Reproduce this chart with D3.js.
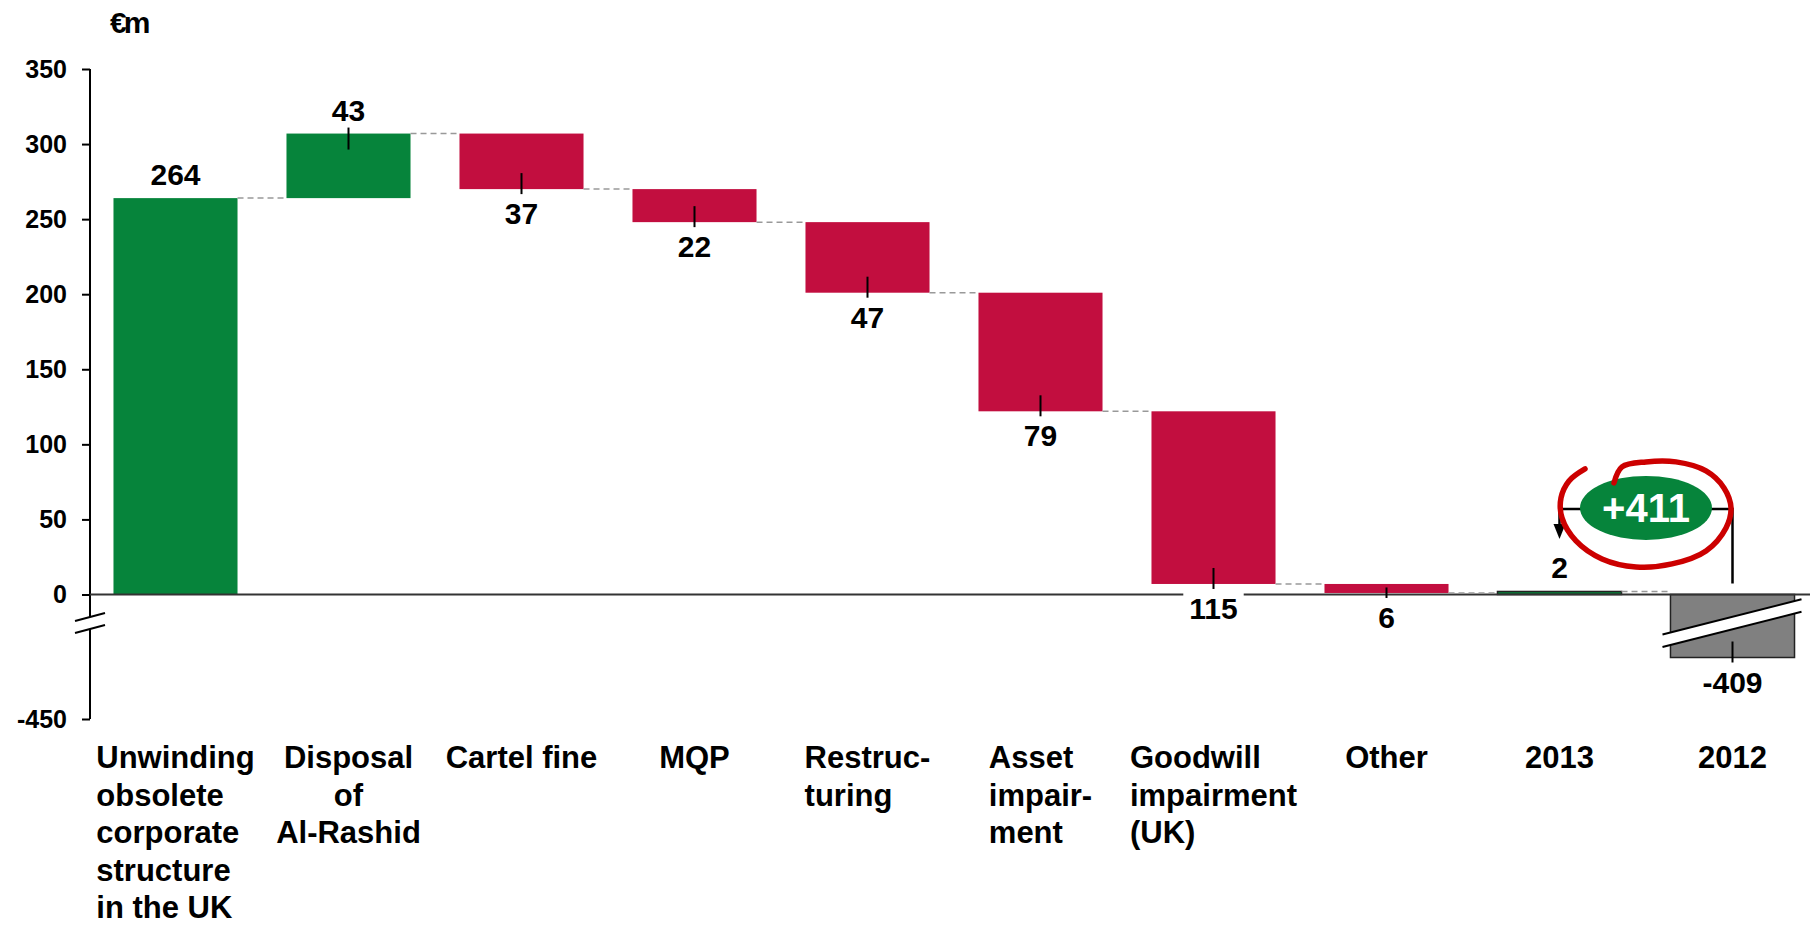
<!DOCTYPE html>
<html>
<head>
    <title>Waterfall</title>
    <script src="https://d3js.org/d3.v7.min.js"></script>
    <style>
        body { margin: 0; background: #fff; }
        text { font-family: "Liberation Sans", Arial, sans-serif; font-weight: bold; fill: #000; }
        .tick text { font-size: 25px; }
        .tick line { stroke: #000; stroke-width: 2; }
        .cat { font-size: 31px; }
        .val { font-size: 30px; }
    </style>
</head>
<body>
<svg width="1810" height="928"></svg>
<script>
    // data
    var labelLines = [
        ["Unwinding", "obsolete", "corporate", "structure", "in the UK"],
        ["Disposal", "of", "Al-Rashid"],
        ["Cartel fine"],
        ["MQP"],
        ["Restruc-", "turing"],
        ["Asset", "impair-", "ment"],
        ["Goodwill", "impairment", "(UK)"],
        ["Other"],
        ["2013"],
        ["2012"]
    ];
    var categories = labelLines.map(d => d.join(" "));
    var values = [264, 43, -37, -22, -47, -79, -115, -6, 2, -409];
    var kinds = ["start", "up", "down", "down", "down", "down", "down", "down", "end", "prior"];
    var yTicks = [-450, 0, 50, 100, 150, 200, 250, 300, 350];
    var hiddenRange = [-386, -19];   // part of the axis cut out by the break
    var annotLevel = 57;             // height of the +411 bracket, in €m

    var colors = { start: "#06843b", up: "#06843b", end: "#06843b", down: "#c20e3f", prior: "#808080" };

    var svg = d3.select("svg"),
        width = +svg.attr("width");

    var x = d3.scaleBand()
        .domain(categories)
        .range([89, 1819])
        .paddingInner(0.283)
        .paddingOuter(0.1415);

    var y = d3.scaleLinear()
        .domain([-450, hiddenRange[0], hiddenRange[1], 350])
        .range([719, 623, 623, 69]);

    var bw = x.bandwidth();
    var yBreak = y(hiddenRange[1]);

    // build the steps
    var run = 0;
    var bars = values.map(function (v, i) {
        var k = kinds[i], y0, y1;
        if (k === "up" || k === "down") { y0 = run; y1 = run + v; }
        else { y0 = 0; y1 = v; }
        run = y1;
        return { cat: categories[i], v: v, kind: k, y0: y0, y1: y1, i: i };
    });

    // axis
    var axis = svg.append("g")
        .attr("transform", "translate(90,0)")
        .call(d3.axisLeft(y).tickValues(yTicks).tickSize(8).tickPadding(15).tickFormat(d => String(d)));
    axis.select(".domain").remove();

    axis.append("line").attr("x1", 0).attr("x2", 0)
        .attr("y1", y(350)).attr("y2", yBreak - 6)
        .attr("stroke", "#000").attr("stroke-width", 2);
    axis.append("line").attr("x1", 0).attr("x2", 0)
        .attr("y1", yBreak + 6).attr("y2", y(-450))
        .attr("stroke", "#000").attr("stroke-width", 2);
    [-6, 6].forEach(function (o) {
        axis.append("line")
            .attr("x1", -15).attr("y1", yBreak + o + 4)
            .attr("x2", 15).attr("y2", yBreak + o - 4)
            .attr("stroke", "#000").attr("stroke-width", 2);
    });

    svg.append("text")
        .attr("x", 110).attr("y", 33)
        .style("font-size", "30px")
        .style("letter-spacing", "-3px")
        .text("€m");

    // bars
    svg.append("g").selectAll("rect")
        .data(bars)
        .join("rect")
        .attr("x", d => x(d.cat))
        .attr("width", bw)
        .attr("y", d => y(Math.max(d.y0, d.y1)))
        .attr("height", d => Math.abs(y(d.y0) - y(d.y1)))
        .attr("fill", d => colors[d.kind])
        .attr("stroke", d => (d.kind === "end" || d.kind === "prior") ? "#222" : "none")
        .attr("stroke-width", 1.5);

    // break across the 2012 bar
    var last = bars[bars.length - 1];
    var bx0 = x(last.cat) - 8, bx1 = x(last.cat) + bw + 7, bcx = x(last.cat) + bw / 2;
    var slope = -0.254;
    var yAt = (xx, off) => yBreak + off + slope * (xx - bcx);
    svg.append("path")
        .attr("d", "M" + bx0 + "," + yAt(bx0, -6.25) + "L" + bx1 + "," + yAt(bx1, -6.25) +
            "L" + bx1 + "," + yAt(bx1, 6.25) + "L" + bx0 + "," + yAt(bx0, 6.25) + "Z")
        .attr("fill", "#fff");
    [-6.25, 6.25].forEach(function (o) {
        svg.append("line")
            .attr("x1", bx0).attr("y1", yAt(bx0, o))
            .attr("x2", bx1).attr("y2", yAt(bx1, o))
            .attr("stroke", "#000").attr("stroke-width", 2);
    });

    // zero line
    svg.append("line")
        .attr("x1", 90).attr("x2", width)
        .attr("y1", y(0)).attr("y2", y(0))
        .attr("stroke", "#333").attr("stroke-width", 2);

    // connectors
    svg.append("g").selectAll("line")
        .data(bars.slice(0, -1))
        .join("line")
        .attr("x1", d => x(d.cat) + bw)
        .attr("x2", d => x(categories[d.i + 1]))
        .attr("y1", d => y(d.y1))
        .attr("y2", d => y(d.y1))
        .attr("stroke", "#999")
        .attr("stroke-width", 1.5)
        .attr("stroke-dasharray", "6,4");

    // value labels and ticks
    var lab = svg.append("g");
    bars.forEach(function (d) {
        var above = d.kind === "up" || ((d.kind === "start" || d.kind === "end") && d.v > 0);
        var edge = y(above ? Math.max(d.y0, d.y1) : Math.min(d.y0, d.y1));
        var other = y(above ? Math.min(d.y0, d.y1) : Math.max(d.y0, d.y1));
        var cx = x(d.cat) + bw / 2;
        var ty = above ? edge - 13 : edge + 35;

        var t = lab.append("text")
            .attr("class", "val")
            .attr("x", cx).attr("y", ty)
            .attr("text-anchor", "middle")
            .text(d.kind === "prior" ? d.v : Math.abs(d.v));

        if (d.kind === "down") {
            var w = t.node().getComputedTextLength();
            lab.insert("rect", "text")
                .attr("x", cx - w / 2 - 6).attr("y", ty - 30)
                .attr("width", w + 12).attr("height", 34)
                .attr("fill", "#fff");
        }
        if (d.kind === "up" || d.kind === "down" || d.kind === "prior") {
            var t1, t2;
            if (above) { t1 = edge - 6; t2 = Math.min(edge + 16, other - 3.5); }
            else { t1 = Math.max(edge - 16, other + 3.5); t2 = edge + 5; }
            lab.append("line")
                .attr("x1", cx).attr("x2", cx)
                .attr("y1", t1).attr("y2", t2)
                .attr("stroke", "#000").attr("stroke-width", 2);
        }
    });

    // category labels
    labelLines.forEach(function (lines, i) {
        var cx = x(categories[i]) + bw / 2;
        var g = svg.append("g");
        var texts = lines.map(function (s, j) {
            return g.append("text").attr("class", "cat")
                .attr("y", 768 + j * 37.5).text(s);
        });
        if (i === 1) {
            texts.forEach(t => t.attr("x", cx).attr("text-anchor", "middle"));
        } else {
            var wmax = d3.max(texts, t => t.node().getComputedTextLength());
            texts.forEach(t => t.attr("x", cx - wmax / 2));
        }
    });

    // +411 bracket between 2013 and 2012
    var cur = bars[8], prev = bars[9];
    var xa = x(cur.cat) + bw / 2, xb = x(prev.cat) + bw / 2;
    var ya = y(annotLevel);
    var ann = svg.append("g");
    ann.append("path")
        .attr("d", "M" + xb + "," + (y(0) - 11) + "V" + ya + "H" + xa + "V" + (ya + 16))
        .attr("fill", "none").attr("stroke", "#000").attr("stroke-width", 2.5);
    ann.append("path")
        .attr("d", "M" + (xa - 6) + "," + (ya + 15) + "L" + (xa + 6) + "," + (ya + 15) + "L" + xa + "," + (ya + 30) + "Z")
        .attr("fill", "#000");

    var ex = (xa + xb) / 2, ey = ya - 1;
    ann.append("ellipse")
        .attr("cx", ex).attr("cy", ey)
        .attr("rx", 66).attr("ry", 32)
        .attr("fill", "#06843b");
    ann.append("text")
        .attr("x", ex).attr("y", ey + 14)
        .attr("text-anchor", "middle")
        .style("font-size", "40px")
        .style("fill", "#fff")
        .text("+" + (cur.v - prev.v));

    var swirl = [[-61, -39], [-77, -27], [-85, -10], [-84, 10], [-70, 33], [-44, 51], [-10, 59],
        [26, 56], [60, 43], [80, 20], [85, 0], [78, -20], [60, -37], [30, -46], [0, -46],
        [-24, -41], [-32, -25]];
    ann.append("path")
        .attr("d", d3.line().curve(d3.curveCatmullRom)(swirl.map(p => [ex + p[0], ey + p[1]])))
        .attr("fill", "none")
        .attr("stroke", "#cc0000")
        .attr("stroke-width", 5.5)
        .attr("stroke-linecap", "round");
</script>
</body>
</html>
